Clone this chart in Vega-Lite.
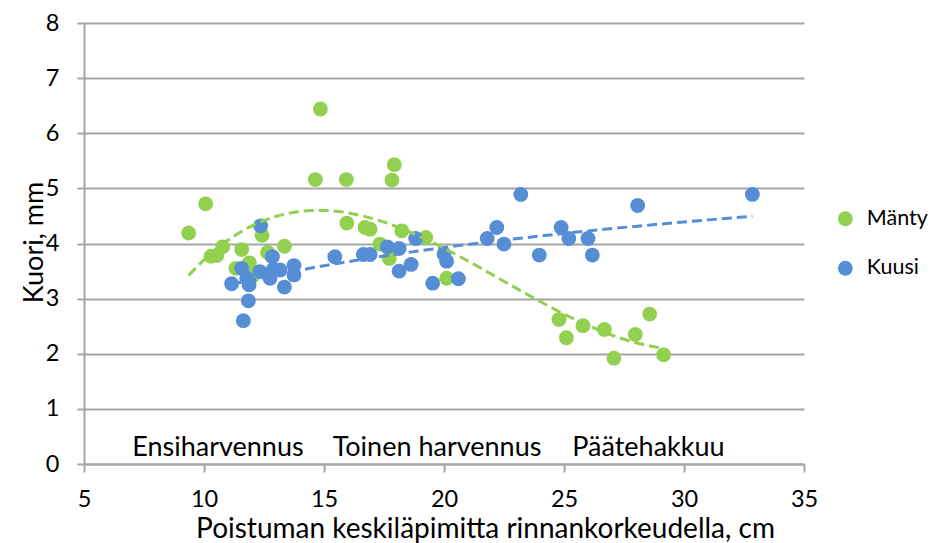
{
  "$schema": "https://vega.github.io/schema/vega-lite/v6.json",
  "width": 720,
  "height": 441,
  "autosize": {"type": "none"},
  "padding": {"left": 84, "top": 23, "right": 129, "bottom": 79},
  "background": "white",
  "config": {
    "view": {"stroke": null},
    "font": "Lato",
    "axis": {
      "labelFont": "Lato", "titleFont": "Lato",
      "labelFontSize": 23.5, "titleFontSize": 28,
      "labelColor": "#000000", "titleColor": "#000000",
      "titleFontWeight": "normal",
      "domainColor": "#A6A6A6", "tickColor": "#A6A6A6", "gridColor": "#A6A6A6",
      "domainWidth": 2, "tickWidth": 2, "gridWidth": 2
    }
  },
  "datasets": {
    "points": [
      {"laji": "Mänty", "d": 9.36, "kuori": 4.19},
      {"laji": "Mänty", "d": 10.07, "kuori": 4.72},
      {"laji": "Mänty", "d": 10.29, "kuori": 3.77},
      {"laji": "Mänty", "d": 10.53, "kuori": 3.78},
      {"laji": "Mänty", "d": 10.78, "kuori": 3.94},
      {"laji": "Mänty", "d": 11.33, "kuori": 3.55},
      {"laji": "Mänty", "d": 11.57, "kuori": 3.89},
      {"laji": "Mänty", "d": 11.89, "kuori": 3.65},
      {"laji": "Mänty", "d": 12.05, "kuori": 3.42},
      {"laji": "Mänty", "d": 12.42, "kuori": 4.15},
      {"laji": "Mänty", "d": 12.65, "kuori": 3.84},
      {"laji": "Mänty", "d": 13.35, "kuori": 3.95},
      {"laji": "Mänty", "d": 14.85, "kuori": 6.44},
      {"laji": "Mänty", "d": 14.64, "kuori": 5.16},
      {"laji": "Mänty", "d": 15.93, "kuori": 5.16},
      {"laji": "Mänty", "d": 17.83, "kuori": 5.15},
      {"laji": "Mänty", "d": 17.93, "kuori": 5.43},
      {"laji": "Mänty", "d": 15.95, "kuori": 4.37},
      {"laji": "Mänty", "d": 16.71, "kuori": 4.29},
      {"laji": "Mänty", "d": 16.92, "kuori": 4.26},
      {"laji": "Mänty", "d": 17.33, "kuori": 3.99},
      {"laji": "Mänty", "d": 17.72, "kuori": 3.73},
      {"laji": "Mänty", "d": 18.24, "kuori": 4.23},
      {"laji": "Mänty", "d": 19.24, "kuori": 4.11},
      {"laji": "Mänty", "d": 20.11, "kuori": 3.37},
      {"laji": "Mänty", "d": 24.79, "kuori": 2.62},
      {"laji": "Mänty", "d": 25.1, "kuori": 2.29},
      {"laji": "Mänty", "d": 25.79, "kuori": 2.51},
      {"laji": "Mänty", "d": 26.68, "kuori": 2.44},
      {"laji": "Mänty", "d": 27.08, "kuori": 1.92},
      {"laji": "Mänty", "d": 27.97, "kuori": 2.35},
      {"laji": "Mänty", "d": 28.57, "kuori": 2.72},
      {"laji": "Mänty", "d": 29.15, "kuori": 1.98},
      {"laji": "Kuusi", "d": 12.36, "kuori": 4.32},
      {"laji": "Kuusi", "d": 12.85, "kuori": 3.76},
      {"laji": "Kuusi", "d": 11.57, "kuori": 3.55},
      {"laji": "Kuusi", "d": 11.78, "kuori": 3.37},
      {"laji": "Kuusi", "d": 11.88, "kuori": 3.25},
      {"laji": "Kuusi", "d": 11.15, "kuori": 3.27},
      {"laji": "Kuusi", "d": 11.85, "kuori": 2.96},
      {"laji": "Kuusi", "d": 11.64, "kuori": 2.6},
      {"laji": "Kuusi", "d": 12.33, "kuori": 3.49},
      {"laji": "Kuusi", "d": 12.75, "kuori": 3.37},
      {"laji": "Kuusi", "d": 12.89, "kuori": 3.53},
      {"laji": "Kuusi", "d": 13.17, "kuori": 3.52},
      {"laji": "Kuusi", "d": 13.35, "kuori": 3.21},
      {"laji": "Kuusi", "d": 13.75, "kuori": 3.6},
      {"laji": "Kuusi", "d": 13.75, "kuori": 3.43},
      {"laji": "Kuusi", "d": 15.45, "kuori": 3.76},
      {"laji": "Kuusi", "d": 16.64, "kuori": 3.8},
      {"laji": "Kuusi", "d": 16.92, "kuori": 3.8},
      {"laji": "Kuusi", "d": 17.64, "kuori": 3.94},
      {"laji": "Kuusi", "d": 18.13, "kuori": 3.91},
      {"laji": "Kuusi", "d": 18.13, "kuori": 3.5},
      {"laji": "Kuusi", "d": 18.63, "kuori": 3.62},
      {"laji": "Kuusi", "d": 18.82, "kuori": 4.09},
      {"laji": "Kuusi", "d": 19.53, "kuori": 3.28},
      {"laji": "Kuusi", "d": 20.0, "kuori": 3.81},
      {"laji": "Kuusi", "d": 20.11, "kuori": 3.68},
      {"laji": "Kuusi", "d": 20.6, "kuori": 3.36},
      {"laji": "Kuusi", "d": 21.8, "kuori": 4.09},
      {"laji": "Kuusi", "d": 22.2, "kuori": 4.29},
      {"laji": "Kuusi", "d": 22.5, "kuori": 3.99},
      {"laji": "Kuusi", "d": 23.2, "kuori": 4.89},
      {"laji": "Kuusi", "d": 23.97, "kuori": 3.79},
      {"laji": "Kuusi", "d": 24.88, "kuori": 4.29},
      {"laji": "Kuusi", "d": 25.2, "kuori": 4.09},
      {"laji": "Kuusi", "d": 26.0, "kuori": 4.09},
      {"laji": "Kuusi", "d": 26.18, "kuori": 3.79},
      {"laji": "Kuusi", "d": 28.07, "kuori": 4.69},
      {"laji": "Kuusi", "d": 32.85, "kuori": 4.89}
    ],
    "labels": [
      {"d": 10.58, "kuori": 0.145, "label": "Ensiharvennus"},
      {"d": 19.71, "kuori": 0.145, "label": "Toinen harvennus"},
      {"d": 28.52, "kuori": 0.145, "label": "Päätehakkuu"}
    ]
  },
  "layer": [
    {
      "data": {"name": "points"},
      "mark": {"type": "point", "filled": true, "opacity": 1, "size": 220, "strokeWidth": 0},
      "encoding": {
        "x": {
          "field": "d", "type": "quantitative",
          "scale": {"domain": [5, 35], "nice": false, "zero": false},
          "axis": {
            "title": "Poistuman keskiläpimitta rinnankorkeudella, cm",
            "values": [5, 10, 15, 20, 25, 30, 35], "format": "d",
            "grid": false, "tickSize": 8, "labelPadding": 15, "labelFlush": false,
            "titleX": 401, "titleY": 73, "titleBaseline": "alphabetic", "titleAlign": "center"
          }
        },
        "y": {
          "field": "kuori", "type": "quantitative",
          "scale": {"domain": [0, 8], "nice": false},
          "axis": {
            "title": "Kuori, mm",
            "titleFontSize": 27,
            "values": [0, 1, 2, 3, 4, 5, 6, 7, 8], "format": "d",
            "grid": true, "tickSize": 7, "labelPadding": 18, "labelFlush": false,
            "titleX": -42, "titleY": 219, "titleBaseline": "alphabetic", "titleAlign": "center", "titleAngle": 270
          }
        },
        "color": {
          "field": "laji", "type": "nominal",
          "scale": {"domain": ["Mänty", "Kuusi"], "range": ["#92D050", "#558ED5"]},
          "legend": {
            "title": null, "orient": "none", "legendX": 750.6, "legendY": 185,
            "symbolType": "circle", "symbolSize": 220, "symbolStrokeWidth": 0,
            "labelFont": "Lato", "labelFontSize": 21.5, "labelColor": "#000000",
            "labelOffset": 10.7, "rowPadding": 26.5, "padding": 0
          }
        }
      }
    },
    {
      "data": {"name": "points"},
      "transform": [
        {"filter": "datum.laji === 'Kuusi'"},
        {"regression": "kuori", "on": "d", "method": "log"}
      ],
      "mark": {"type": "line", "color": "#558ED5", "strokeWidth": 3, "strokeDash": [10, 5]},
      "encoding": {
        "x": {"field": "d", "type": "quantitative"},
        "y": {"field": "kuori", "type": "quantitative"}
      }
    },
    {
      "data": {"name": "points"},
      "transform": [
        {"filter": "datum.laji === 'Mänty'"},
        {"regression": "kuori", "on": "d", "method": "poly", "order": 3}
      ],
      "mark": {"type": "line", "color": "#92D050", "strokeWidth": 3, "strokeDash": [10, 5]},
      "encoding": {
        "x": {"field": "d", "type": "quantitative"},
        "y": {"field": "kuori", "type": "quantitative"}
      }
    },
    {
      "data": {"name": "labels"},
      "mark": {"type": "text", "font": "Lato", "fontSize": 27, "align": "center", "baseline": "alphabetic", "color": "#000000"},
      "encoding": {
        "x": {"field": "d", "type": "quantitative"},
        "y": {"field": "kuori", "type": "quantitative"},
        "text": {"field": "label"}
      }
    }
  ]
}
